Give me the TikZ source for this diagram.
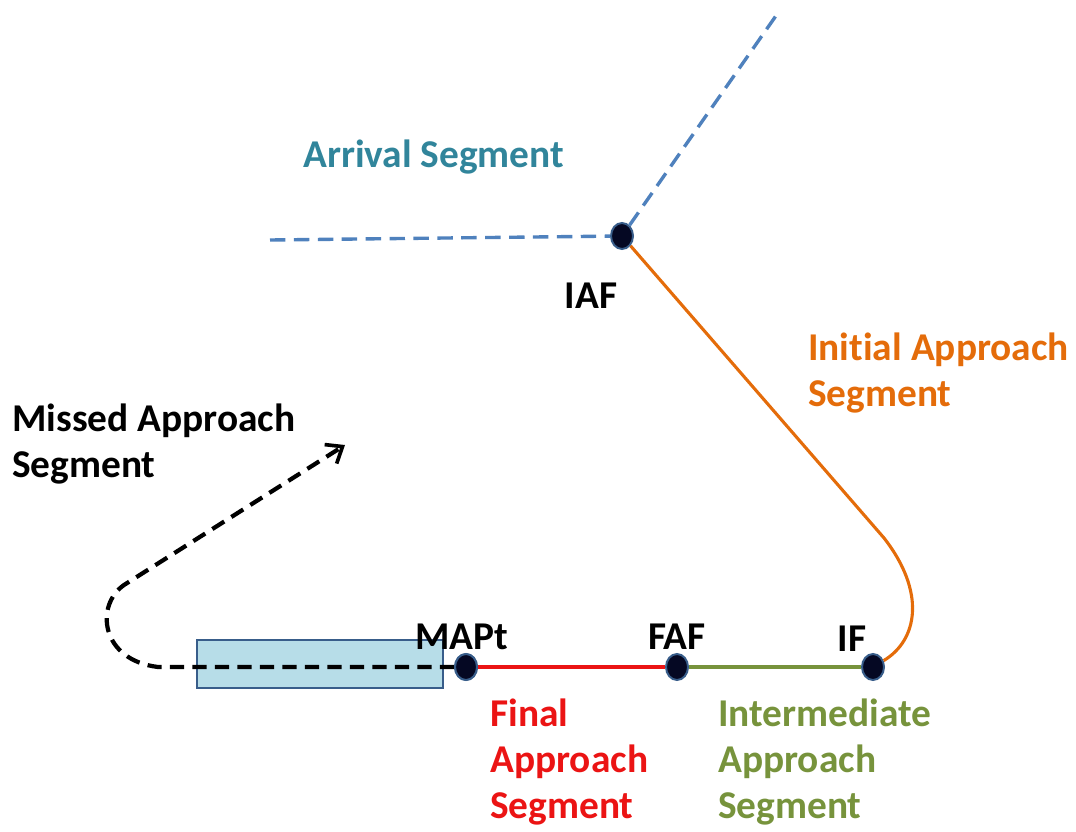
\documentclass[tikz,border=0pt]{standalone}
\usepackage{fontspec}
\setmainfont{Carlito}[Ligatures=NoCommon, Contextuals=NoAlternate]
\usetikzlibrary{positioning,calc,shapes,arrows.meta}
\definecolor{arrivalblue}{RGB}{79,129,189}
\definecolor{arrivaltext}{RGB}{49,133,155}
\definecolor{initorange}{RGB}{228,108,10}
\definecolor{finalred}{RGB}{235,20,20}
\definecolor{interGreen}{RGB}{119,147,60}
\definecolor{rwyfill}{RGB}{183,221,232}
\definecolor{rwyline}{RGB}{56,93,138}
\definecolor{fixfill}{RGB}{5,8,35}
\tikzset{
    fix/.style={draw=rwyline, fill=fixfill, ellipse, line width=1.4pt,
                minimum width=0.55cm, minimum height=0.65cm, inner sep=0pt},
    fixlabel/.style={font=\fontsize{28}{33}\selectfont\bfseries, inner sep=0pt},
    seglabel/.style={font=\fontsize{28}{33}\selectfont\bfseries, align=left,
                     anchor=west, inner sep=0pt}
}
\begin{document}
\begin{tikzpicture}[x=0.025cm, y=-0.025cm]
    \useasboundingbox (0,0) rectangle (1076,832);

    % Runway
    \node[draw=rwyline, fill=rwyfill, line width=1.4pt, minimum width=6.15cm,
          minimum height=1.2cm, inner sep=0pt] (rwy) at (320,664) {};

    % Fixes
    \node[fix] (iaf) at (622,236) {};
    \node[fix] (mapt) at (466,667) {};
    \node[fix] (faf) at (677,667) {};
    \node[fix] (ifix) at (873,667) {};

    % Free ends
    \coordinate (arrW) at (270,240);
    \coordinate (arrN) at (780,10);
    \coordinate (turn) at (884,538);
    \coordinate (mapL) at (158,667);
    \coordinate (mapUp) at (124,585);
    \coordinate (mapEnd) at (345,445);

    % Segments
    \draw[arrivalblue, line width=2.4pt, dash pattern=on 11pt off 6pt] (arrW) -- (iaf);
    \draw[arrivalblue, line width=2.4pt, dash pattern=on 11pt off 6pt] (iaf) -- (arrN);
    \draw[initorange, line width=2.2pt] (iaf) -- (turn)
        .. controls (926,592) and (918,640) .. (ifix);
    \draw[finalred, line width=2.8pt] (mapt) -- (faf);
    \draw[interGreen, line width=2.8pt] (faf) -- (ifix);
    \draw[black, line width=3pt, dash pattern=on 10pt off 6pt,
          -{Straight Barb[length=10pt, width=16pt, line width=2.6pt]}]
        (mapt.west) -- (mapL) .. controls (100,660) and (95,605) .. (mapUp) -- (mapEnd);
    \node[fix] at (mapt) {};

    % Fix labels
    \node[fixlabel] (iafL) at (591,296) {IAF};
    \node[fixlabel] (maptL) at (462,637) {MAPt};
    \node[fixlabel] (fafL) at (677,637) {FAF};
    \node[fixlabel] (ifL) at (852,639) {IF};

    % Segment labels
    \node[seglabel, text=arrivaltext] (arrL) at (303,157) {Arrival Segment};
    \node[seglabel, text=initorange] (initL) at (808,373) {Initial Approach\\Segment};
    \node[seglabel] (missL) at (12,444) {Missed Approach\\Segment};
    \node[seglabel, text=finalred] (finL) at (490,762) {Final\\Approach\\Segment};
    \node[seglabel, text=interGreen] (intL) at (718,762) {Intermediate\\Approach\\Segment};
\end{tikzpicture}
\end{document}
